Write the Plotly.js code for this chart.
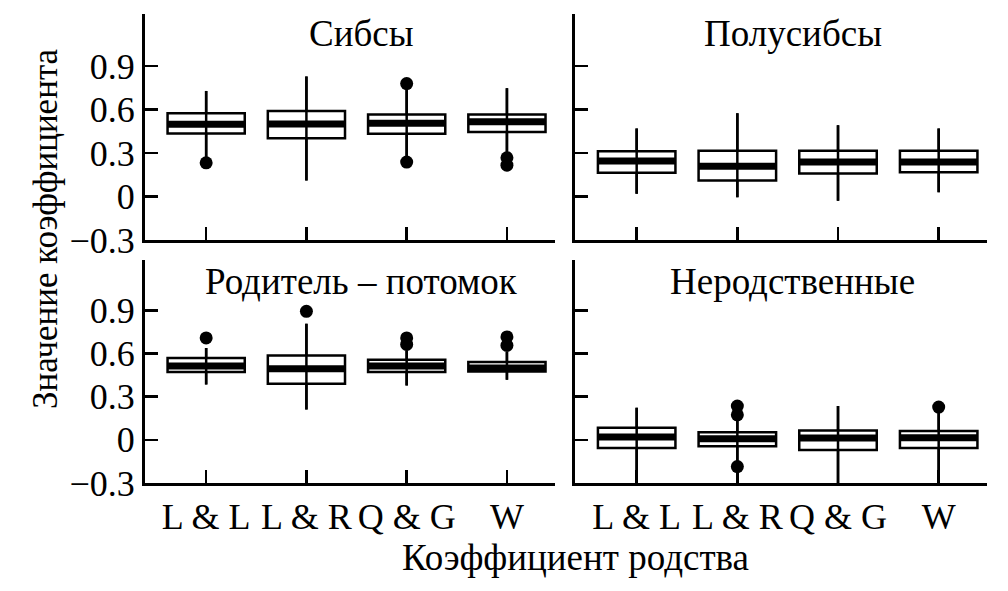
<!DOCTYPE html>
<html>
<head>
<meta charset="utf-8">
<script src="https://cdn.plot.ly/plotly-3.0.1.min.js"></script>
<style>html,body{margin:0;padding:0;background:#fff;}#chart{width:1008px;height:591px;}</style>
</head>
<body>
<div id="chart"></div>
<script>
// ---- data ----
var categories = ['L & L', 'L & R', 'Q & G', 'W'];
var panelTitles = ['Сибсы', 'Полусибсы', 'Родитель – потомок', 'Неродственные'];
var yTickVals = [-0.3, 0, 0.3, 0.6, 0.9];
var yTickText = ['\u22120.3', '0', '0.3', '0.6', '0.9'];
var xTitle = 'Коэффициент родства';
var yTitle = 'Значение коэффициента';

// Сибсы
var sibQ1 = [0.436, 0.402, 0.434, 0.445];
var sibMed = [0.499, 0.501, 0.506, 0.517];
var sibQ3 = [0.575, 0.591, 0.566, 0.566];
var sibLo = [0.25, 0.111, 0.26, 0.29];
var sibHi = [0.729, 0.829, 0.76, 0.748];
var sibOut = [[0.233], [], [0.78, 0.238], [0.268, 0.217]];

// Полусибсы
var halfQ1 = [0.164, 0.111, 0.159, 0.168];
var halfMed = [0.245, 0.21, 0.238, 0.238];
var halfQ3 = [0.312, 0.316, 0.316, 0.316];
var halfLo = [0.019, -0.005, -0.028, 0.03];
var halfHi = [0.469, 0.575, 0.492, 0.469];
var halfOut = [[], [], [], []];

// Родитель – потомок
var parQ1 = [0.471, 0.39, 0.471, 0.475];
var parMed = [0.513, 0.494, 0.513, 0.5];
var parQ3 = [0.569, 0.587, 0.557, 0.541];
var parLo = [0.385, 0.211, 0.378, 0.418];
var parHi = [0.638, 0.807, 0.621, 0.61];
var parOut = [[0.708], [0.893], [0.708, 0.663], [0.715, 0.656]];

// Неродственные
var unrQ1 = [-0.056, -0.044, -0.07, -0.056];
var unrMed = [0.019, 0.007, 0.012, 0.014];
var unrQ3 = [0.084, 0.053, 0.065, 0.061];
var unrLo = [-0.3, -0.3, -0.3, -0.3];
var unrHi = [0.223, 0.17, 0.235, 0.21];
var unrOut = [[], [0.235, 0.174, -0.186], [], [0.228]];

// ---- build ----
var panels = [
  {q1: sibQ1, med: sibMed, q3: sibQ3, lo: sibLo, hi: sibHi, out: sibOut},
  {q1: halfQ1, med: halfMed, q3: halfQ3, lo: halfLo, hi: halfHi, out: halfOut},
  {q1: parQ1, med: parMed, q3: parQ3, lo: parLo, hi: parHi, out: parOut},
  {q1: unrQ1, med: unrMed, q3: unrQ3, lo: unrLo, hi: unrHi, out: unrOut}
];
var FONT = 'Liberation Serif';
var BOXW = 0.77;
var pos = categories.map(function (c, i) { return i; });
var traces = [];
panels.forEach(function (p, k) {
  var xa = 'x' + (k === 0 ? '' : (k + 1));
  var ya = 'y' + (k === 0 ? '' : (k + 1));
  traces.push({
    type: 'box', x: pos, q1: p.q1, median: p.med, q3: p.q3,
    lowerfence: p.lo, upperfence: p.hi,
    width: BOXW, whiskerwidth: 0, boxpoints: false,
    fillcolor: 'rgba(0,0,0,0)', line: {color: '#000', width: 2.5},
    xaxis: xa, yaxis: ya, showlegend: false, hoverinfo: 'skip'
  });
  var wx = [], wy = [], mx = [], my = [], ox = [], oy = [];
  pos.forEach(function (x, i) {
    wx.push(x, x, null); wy.push(p.lo[i], p.hi[i], null);
    mx.push(x - BOXW / 2, x + BOXW / 2, null); my.push(p.med[i], p.med[i], null);
    p.out[i].forEach(function (v) { ox.push(x); oy.push(v); });
  });
  traces.push({type: 'scatter', mode: 'lines', x: wx, y: wy, line: {color: '#000', width: 2.5},
    xaxis: xa, yaxis: ya, showlegend: false, hoverinfo: 'skip', cliponaxis: false});
  traces.push({type: 'scatter', mode: 'lines', x: mx, y: my, line: {color: '#000', width: 7},
    xaxis: xa, yaxis: ya, showlegend: false, hoverinfo: 'skip'});
  traces.push({type: 'scatter', mode: 'markers', x: ox, y: oy, marker: {color: '#000', size: 13},
    xaxis: xa, yaxis: ya, showlegend: false, hoverinfo: 'skip', cliponaxis: false});
});

function xAxis(domain, anchor, showLabels) {
  return {
    domain: domain, anchor: anchor, range: [-0.61, 3.48],
    tickmode: 'array', tickvals: pos, ticktext: categories,
    showticklabels: showLabels, ticks: 'inside', ticklen: 13, tickwidth: 2.5, tickcolor: '#000',
    showline: true, linecolor: '#000', linewidth: 3, showgrid: false, zeroline: false,
    tickfont: {family: FONT, size: 36, color: '#000'}
  };
}
function yAxis(domain, anchor, range, showLabels) {
  return {
    domain: domain, anchor: anchor, range: range,
    tickmode: 'array', tickvals: yTickVals, ticktext: yTickText,
    showticklabels: showLabels, ticks: 'inside', ticklen: 13, tickwidth: 2.5, tickcolor: '#000',
    showline: true, linecolor: '#000', linewidth: 3, showgrid: false, zeroline: false,
    tickfont: {family: FONT, size: 36, color: '#000'}, ticklabelstandoff: 0
  };
}
var dL = [0, 0.487], dR = [0.511, 1], dT = [0.518, 1], dB = [0, 0.4755];
var rT = [-0.3, 1.26], rB = [-0.3, 1.25];

var annotations = [];
var titleY = [1.123, 1.123, 1.10, 1.10];
panelTitles.forEach(function (t, k) {
  annotations.push({
    text: t, xref: 'x' + (k === 0 ? '' : (k + 1)), yref: 'y' + (k === 0 ? '' : (k + 1)),
    x: 1.55, y: titleY[k], xanchor: 'center', yanchor: 'middle', showarrow: false,
    font: {family: FONT, size: 37, color: '#000'}
  });
});
annotations.push({text: xTitle, xref: 'paper', yref: 'paper', x: 0.5107, y: -0.158,
  xanchor: 'center', yanchor: 'middle', showarrow: false, borderpad: 0,
  font: {family: FONT, size: 37, color: '#000'}});
annotations.push({text: yTitle, xref: 'paper', yref: 'paper', x: -0.1188, y: 0.5437, textangle: -90,
  xanchor: 'center', yanchor: 'middle', showarrow: false, font: {family: FONT, size: 35, color: '#000'}});

var layout = {
  width: 1008, height: 591,
  margin: {l: 145, r: 21, t: 14, b: 108},
  paper_bgcolor: '#fff', plot_bgcolor: '#fff',
  showlegend: false,
  font: {family: FONT, color: '#000'},
  xaxis: xAxis(dL, 'y', false),
  xaxis2: xAxis(dR, 'y2', false),
  xaxis3: xAxis(dL, 'y3', true),
  xaxis4: xAxis(dR, 'y4', true),
  yaxis: yAxis(dT, 'x', rT, true),
  yaxis2: yAxis(dT, 'x2', rT, false),
  yaxis3: yAxis(dB, 'x3', rB, true),
  yaxis4: yAxis(dB, 'x4', rB, false),
  annotations: annotations
};
Plotly.newPlot('chart', traces, layout, {displayModeBar: false, staticPlot: true});
</script>
</body>
</html>
